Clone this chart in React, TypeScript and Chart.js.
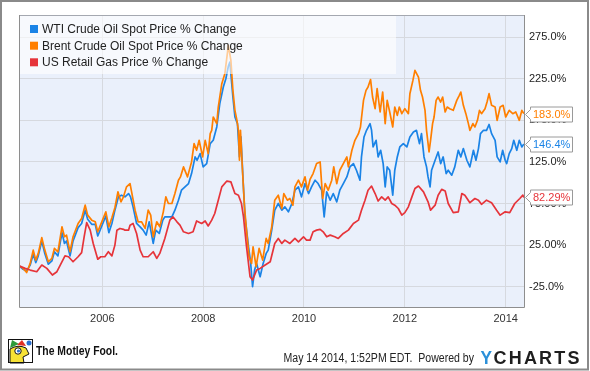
import React, { useEffect, useRef } from "react";
import { Chart, registerables } from "chart.js";

Chart.register(...registerables);

const FONT = "'Liberation Sans', Arial, Helvetica, sans-serif";

const seriesNames = [
  "WTI Crude Oil Spot Price % Change",
  "Brent Crude Oil Spot Price % Change",
  "US Retail Gas Price % Change",
];
const seriesColors = ["#1a83e6", "#ff7f00", "#e6343a"];

const wtiDates = [
  2004.35, 2004.43, 2004.5, 2004.57, 2004.63, 2004.68, 2004.73, 2004.8, 2004.86, 2004.93,
  2005.0, 2005.05, 2005.12, 2005.2, 2005.25, 2005.29, 2005.36, 2005.42, 2005.52, 2005.59,
  2005.66, 2005.71, 2005.79, 2005.86, 2005.91, 2005.99, 2006.07, 2006.13, 2006.19, 2006.25,
  2006.32, 2006.38, 2006.45, 2006.52, 2006.56, 2006.61, 2006.68, 2006.75, 2006.81, 2006.87,
  2006.93, 2007.01, 2007.06, 2007.13, 2007.2, 2007.24, 2007.31, 2007.38, 2007.44, 2007.51,
  2007.57, 2007.64, 2007.71, 2007.77, 2007.84, 2007.88, 2007.94, 2008.0, 2008.07, 2008.14,
  2008.2, 2008.27, 2008.33, 2008.4, 2008.45, 2008.5, 2008.53, 2008.59, 2008.63, 2008.68,
  2008.72, 2008.75, 2008.79, 2008.83, 2008.9, 2008.94, 2008.98, 2009.02, 2009.06, 2009.13,
  2009.19, 2009.25, 2009.29, 2009.36, 2009.42, 2009.49, 2009.56, 2009.62, 2009.69, 2009.76,
  2009.82, 2009.89, 2009.95, 2010.02, 2010.09, 2010.15, 2010.22, 2010.28, 2010.35, 2010.4,
  2010.45, 2010.52, 2010.58, 2010.65, 2010.71, 2010.78, 2010.85, 2010.91, 2010.98, 2011.04,
  2011.11, 2011.14, 2011.19, 2011.24, 2011.31, 2011.34, 2011.37, 2011.43, 2011.47, 2011.52,
  2011.57, 2011.61, 2011.65, 2011.7, 2011.76, 2011.8, 2011.85, 2011.9, 2011.97, 2012.04,
  2012.1, 2012.17, 2012.23, 2012.29, 2012.33, 2012.38, 2012.43, 2012.46, 2012.5, 2012.53,
  2012.6, 2012.66, 2012.71, 2012.76, 2012.82, 2012.86, 2012.93, 2012.99, 2013.06, 2013.11,
  2013.16, 2013.23, 2013.29, 2013.36, 2013.41, 2013.46, 2013.5, 2013.56, 2013.62, 2013.67,
  2013.72, 2013.79, 2013.83, 2013.89, 2013.94, 2013.99, 2014.02, 2014.07, 2014.12, 2014.16,
  2014.22, 2014.27, 2014.32, 2014.36,
];
const wtiValues = [
  0, -4, -6, 1, 14, 4, 12, 30, 15, 2,
  6, 17, 12, 40, 27, 30, 12, 30, 46, 51,
  67, 56, 50, 50, 36, 48, 60, 40, 51, 67,
  83, 85, 83, 87, 83, 71, 51, 47, 43, 37,
  53, 27, 43, 39, 55, 59, 59, 59, 67, 79,
  91, 95, 99, 111, 131, 127, 135, 119, 123, 147,
  151, 167, 195, 215, 225, 240, 245, 203, 179, 171,
  131, 155, 105, 59, 23, 5, -25, -5, 3, -13,
  3, 15, 19, 43, 67, 75, 67, 71, 65, 75,
  91, 95, 83, 99, 87, 95, 103, 99, 91, 59,
  89, 79, 87, 77, 91, 99, 107, 119, 123, 115,
  103, 131, 155, 163, 171, 163, 143, 151, 131, 139,
  123, 95, 119, 115, 85, 115, 131, 143, 147, 143,
  155, 161, 163, 147, 159, 131, 119, 107, 95, 115,
  127, 137, 123, 131, 111, 115, 109, 119, 139, 131,
  141, 127, 119, 139, 127, 141, 159, 163, 163, 170,
  159, 151, 131, 125, 139, 127, 123, 135, 141, 151,
  139, 151, 143, 146.4,
];

const brentDates = [
  2004.35, 2004.43, 2004.5, 2004.57, 2004.63, 2004.68, 2004.73, 2004.8, 2004.86, 2004.93,
  2005.0, 2005.05, 2005.12, 2005.2, 2005.25, 2005.29, 2005.36, 2005.42, 2005.52, 2005.59,
  2005.66, 2005.71, 2005.79, 2005.86, 2005.91, 2005.99, 2006.07, 2006.13, 2006.19, 2006.25,
  2006.31, 2006.37, 2006.42, 2006.48, 2006.55, 2006.6, 2006.65, 2006.71, 2006.78, 2006.85,
  2006.91, 2006.96, 2007.01, 2007.08, 2007.14, 2007.21, 2007.26, 2007.31, 2007.38, 2007.44,
  2007.51, 2007.55, 2007.61, 2007.69, 2007.77, 2007.82, 2007.87, 2007.92, 2007.99, 2008.04,
  2008.1, 2008.14, 2008.17, 2008.2, 2008.27, 2008.3, 2008.37, 2008.43, 2008.5, 2008.55,
  2008.59, 2008.63, 2008.67, 2008.7, 2008.72, 2008.74, 2008.78, 2008.82, 2008.86, 2008.91,
  2008.96, 2008.99, 2009.05, 2009.11, 2009.18, 2009.25, 2009.29, 2009.36, 2009.42, 2009.49,
  2009.56, 2009.6, 2009.67, 2009.72, 2009.78, 2009.82, 2009.89, 2009.95, 2010.02, 2010.07,
  2010.12, 2010.18, 2010.25, 2010.32, 2010.37, 2010.42, 2010.48, 2010.55, 2010.59, 2010.65,
  2010.71, 2010.78, 2010.85, 2010.88, 2010.95, 2011.01, 2011.08, 2011.12, 2011.18, 2011.23,
  2011.27, 2011.32, 2011.36, 2011.41, 2011.45, 2011.51, 2011.56, 2011.61, 2011.65, 2011.7,
  2011.76, 2011.8, 2011.85, 2011.89, 2011.94, 2012.0, 2012.07, 2012.1, 2012.16, 2012.2,
  2012.27, 2012.31, 2012.35, 2012.4, 2012.43, 2012.48, 2012.51, 2012.55, 2012.58, 2012.62,
  2012.66, 2012.71, 2012.75, 2012.8, 2012.84, 2012.89, 2012.96, 2013.03, 2013.08, 2013.11,
  2013.16, 2013.21, 2013.26, 2013.29, 2013.35, 2013.39, 2013.44, 2013.48, 2013.52, 2013.59,
  2013.63, 2013.67, 2013.72, 2013.79, 2013.83, 2013.89, 2013.95, 2014.0, 2014.07, 2014.14,
  2014.2, 2014.27, 2014.32, 2014.36,
];
const brentValues = [
  0, -3, -8, 3, 19, 7, 15, 34, 19, 5,
  9, 21, 17, 47, 35, 37, 17, 35, 51, 57,
  73, 61, 55, 53, 41, 53, 65, 47, 58, 70,
  89, 77, 83, 95, 99, 83, 67, 53, 53, 45,
  67, 61, 35, 53, 47, 65, 83, 75, 75, 87,
  103, 107, 119, 107, 125, 147, 139, 151, 131, 151,
  135, 159, 163, 179, 171, 191, 219, 231, 265, 247,
  211, 187, 175, 163, 127, 163, 115, 71, 43, 11,
  3, 23, -1, 21, 7, 33, 27, 47, 79, 85,
  69, 87, 79, 81, 73, 95, 103, 95, 107, 91,
  104, 111, 123, 125, 81, 99, 91, 103, 119, 99,
  115, 123, 131, 119, 139, 151, 159, 167, 199, 211,
  215, 224, 203, 189, 213, 185, 209, 171, 199, 185,
  167, 191, 181, 191, 183, 189, 183, 207, 223, 235,
  227, 211, 203, 187, 163, 137, 151, 171, 179, 199,
  203, 197, 203, 185, 191, 189, 187, 199, 205, 209,
  193, 183, 171, 163, 171, 167, 175, 187, 183, 189,
  197, 207, 193, 191, 175, 191, 193, 179, 187, 183,
  185, 175, 187, 183.0,
];

const gasDates = [
  2004.35, 2004.47, 2004.57, 2004.7, 2004.8, 2004.9, 2005.01, 2005.1, 2005.26, 2005.33,
  2005.42, 2005.52, 2005.59, 2005.64, 2005.69, 2005.76, 2005.82, 2005.91, 2005.97, 2006.05,
  2006.12, 2006.19, 2006.25, 2006.29, 2006.35, 2006.42, 2006.45, 2006.52, 2006.55, 2006.61,
  2006.68, 2006.75, 2006.81, 2006.91, 2007.01, 2007.08, 2007.14, 2007.24, 2007.34, 2007.4,
  2007.48, 2007.54, 2007.61, 2007.71, 2007.8, 2007.87, 2007.97, 2008.04, 2008.1, 2008.17,
  2008.23, 2008.3, 2008.37, 2008.47, 2008.55, 2008.63, 2008.7, 2008.76, 2008.8, 2008.86,
  2008.93, 2008.98, 2009.06, 2009.13, 2009.23, 2009.33, 2009.42, 2009.49, 2009.56, 2009.62,
  2009.72, 2009.82, 2009.89, 2009.99, 2010.05, 2010.12, 2010.18, 2010.25, 2010.32, 2010.38,
  2010.45, 2010.52, 2010.61, 2010.68, 2010.78, 2010.88, 2010.98, 2011.08, 2011.14, 2011.21,
  2011.27, 2011.34, 2011.41, 2011.47, 2011.54, 2011.61, 2011.67, 2011.74, 2011.8, 2011.87,
  2011.94, 2012.0, 2012.07, 2012.14, 2012.2, 2012.27, 2012.37, 2012.46, 2012.51, 2012.6,
  2012.66, 2012.73, 2012.8, 2012.86, 2012.96, 2013.06, 2013.13, 2013.19, 2013.29, 2013.39,
  2013.46, 2013.52, 2013.62, 2013.72, 2013.82, 2013.89, 2013.99, 2014.08, 2014.18, 2014.28,
  2014.34, 2014.36,
];
const gasValues = [
  0, -3, -5, -7, 1, -3, -11, -7, 12, 11,
  5, 11, 16, 35, 52, 43, 27, 8, 11, 11,
  17, 12, 25, 43, 45, 44, 43, 43, 49, 51,
  39, 19, 11, 11, 17, 9, 15, 33, 55, 59,
  53, 49, 41, 39, 41, 54, 51, 54, 48, 55,
  63, 79, 95, 102, 101, 87, 85, 75, 59, 23,
  -13, -17, -5, -3, 1, 5, 27, 33, 27, 31,
  27, 33, 29, 35, 31, 31, 41, 43, 44, 41,
  35, 37, 35, 33, 39, 43, 51, 55, 67, 79,
  91, 96, 87, 78, 83, 79, 83, 75, 73, 69,
  61, 64, 71, 83, 93, 96, 89, 77, 67, 73,
  85, 92, 90, 75, 64, 65, 87, 85, 76, 81,
  79, 74, 79, 76, 67, 61, 65, 64, 75, 81,
  85, 82.29,
];

const xMin = 2004.348;
const xMax = 2014.363;
const yMin = -49.4;
const yMax = 301.6;
const xTickValues = [2006, 2008, 2010, 2012, 2014];
const xTickLabels = ["2006", "2008", "2010", "2012", "2014"];
const yTickValues = [-25, 25, 75, 125, 175, 225, 275];
const yTickLabels = ["-25.0%", "25.00%", "75.00%", "125.0%", "175.0%", "225.0%", "275.0%"];
const endLabels = ["146.4%", "183.0%", "82.29%"];
const footerText = "May 14 2014, 1:52PM EDT.  Powered by";
const brandText = "The Motley Fool.";

function fitText(ctx: CanvasRenderingContext2D, text: string, x: number, y: number, w: number) {
  const m = ctx.measureText(text).width;
  ctx.save();
  ctx.translate(x, y);
  ctx.scale(w / m, 1);
  ctx.fillText(text, 0, 0);
  ctx.restore();
}

const bgPlugin = {
  id: "bgPlugin",
  beforeDraw(chart: any) {
    const { ctx, chartArea: a } = chart;
    ctx.save();
    ctx.fillStyle = "#ffffff";
    ctx.fillRect(0, 0, chart.width, chart.height);
    ctx.fillStyle = "#eaf0fb";
    ctx.fillRect(a.left, a.top, a.right - a.left, a.bottom - a.top);
    ctx.restore();
  },
};

const legendPlugin = {
  id: "legendPlugin",
  afterDatasetsDraw(chart: any) {
    const { ctx, chartArea: a } = chart;
    ctx.save();
    ctx.fillStyle = "rgba(255,255,255,0.6)";
    ctx.fillRect(a.left, a.top, 377, 59);
    const rows = [14, 30.7, 47.3];
    ctx.font = `12px ${FONT}`;
    ctx.textBaseline = "middle";
    ctx.textAlign = "left";
    for (let i = 0; i < 3; i++) {
      const y = a.top + rows[i];
      ctx.fillStyle = seriesColors[i];
      ctx.fillRect(a.left + 11, y - 4, 8, 8);
      ctx.fillStyle = "#222222";
      ctx.fillText(seriesNames[i], a.left + 23, y + 0.5);
    }
    ctx.restore();
  },
};

function drawLogo(ctx: CanvasRenderingContext2D, x: number, y: number) {
  ctx.save();
  ctx.fillStyle = "#ffffff";
  ctx.fillRect(x, y, 25, 24);
  ctx.fillStyle = "#2e9b3a";
  ctx.beginPath();
  ctx.moveTo(x + 2, y + 9);
  ctx.lineTo(x + 4, y + 1);
  ctx.lineTo(x + 11, y + 5);
  ctx.closePath();
  ctx.fill();
  ctx.fillStyle = "#e03024";
  ctx.beginPath();
  ctx.moveTo(x + 9, y + 6);
  ctx.lineTo(x + 14, y + 1);
  ctx.lineTo(x + 18, y + 7);
  ctx.closePath();
  ctx.fill();
  ctx.fillStyle = "#2a6fd0";
  ctx.beginPath();
  ctx.arc(x + 21, y + 4, 2.5, 0, Math.PI * 2);
  ctx.fill();
  ctx.fillStyle = "#f6e135";
  ctx.beginPath();
  ctx.moveTo(x + 2, y + 24);
  ctx.lineTo(x + 2, y + 10);
  ctx.quadraticCurveTo(x + 10, y + 5, x + 18, y + 9);
  ctx.lineTo(x + 21, y + 15);
  ctx.lineTo(x + 15, y + 18);
  ctx.lineTo(x + 16, y + 24);
  ctx.closePath();
  ctx.fill();
  ctx.strokeStyle = "#111";
  ctx.lineWidth = 1;
  ctx.stroke();
  ctx.fillStyle = "#ffffff";
  ctx.beginPath();
  ctx.arc(x + 10, y + 12, 3.2, 0, Math.PI * 2);
  ctx.fill();
  ctx.stroke();
  ctx.fillStyle = "#2a6fd0";
  ctx.beginPath();
  ctx.arc(x + 10.5, y + 12, 1.6, 0, Math.PI * 2);
  ctx.fill();
  ctx.strokeStyle = "#111";
  ctx.strokeRect(x + 0.5, y + 0.5, 24, 23);
  ctx.restore();
}

const decoPlugin = {
  id: "decoPlugin",
  afterDraw(chart: any) {
    const { ctx, chartArea: a } = chart;
    const ys = chart.scales.y;
    ctx.save();
    ctx.lineWidth = 1;
    ctx.strokeStyle = "#a4a8b0";
    ctx.beginPath();
    ctx.moveTo(a.left, a.top + 0.5);
    ctx.lineTo(a.right, a.top + 0.5);
    ctx.stroke();
    ctx.strokeStyle = "#8e8e8e";
    ctx.beginPath();
    ctx.moveTo(a.left + 0.5, a.top);
    ctx.lineTo(a.left + 0.5, a.bottom + 0.5);
    ctx.lineTo(a.right + 0.5, a.bottom + 0.5);
    ctx.lineTo(a.right + 0.5, a.top);
    ctx.stroke();

    const lasts = [
      wtiValues[wtiValues.length - 1],
      brentValues[brentValues.length - 1],
      gasValues[gasValues.length - 1],
    ];
    ctx.font = `11px ${FONT}`;
    ctx.textBaseline = "middle";
    ctx.textAlign = "left";
    for (let i = 0; i < 3; i++) {
      const y = Math.round(ys.getPixelForValue(lasts[i])) + 0.5;
      const tip = a.right + 1.5;
      const bl = a.right + 6.5;
      const br = bl + 42;
      const top = y - 7.5;
      const bot = y + 7.5;
      ctx.beginPath();
      ctx.moveTo(tip, y);
      ctx.lineTo(bl, y - 5);
      ctx.lineTo(bl, top);
      ctx.lineTo(br, top);
      ctx.lineTo(br, bot);
      ctx.lineTo(bl, bot);
      ctx.lineTo(bl, y + 5);
      ctx.closePath();
      ctx.fillStyle = "#ffffff";
      ctx.fill();
      ctx.strokeStyle = "#9a9a9a";
      ctx.stroke();
      ctx.fillStyle = seriesColors[i];
      ctx.fillText(endLabels[i], bl + 2.5, y + 0.5);
    }

    ctx.strokeStyle = "#8a8a8a";
    ctx.lineWidth = 2;
    ctx.strokeRect(1, 1, chart.width - 3, chart.height - 2.5);

    drawLogo(ctx, 8, 339);
    ctx.fillStyle = "#111111";
    ctx.font = `bold 12px ${FONT}`;
    ctx.textBaseline = "middle";
    fitText(ctx, brandText, 36, 352, 82);

    ctx.fillStyle = "#222222";
    ctx.font = `12px ${FONT}`;
    fitText(ctx, footerText, 283.5, 358.5, 190.5);

    ctx.font = `bold 18px ${FONT}`;
    ctx.fillStyle = "#2b90d9";
    ctx.textBaseline = "alphabetic";
    fitText(ctx, "Y", 480.5, 363.5, 11.5);
    const letters = ["C", "H", "A", "R", "T", "S"];
    const widths = letters.map((l) => ctx.measureText(l).width);
    const total = widths.reduce((s, w) => s + w, 0);
    const gap = (579.5 - 493.5 - total) / (letters.length - 1);
    let cx = 493.5;
    ctx.fillStyle = "#1e1e1e";
    for (let i = 0; i < letters.length; i++) {
      ctx.fillText(letters[i], cx, 363.5);
      cx += widths[i] + gap;
    }
    ctx.restore();
  },
};

export default function App() {
  const ref = useRef<HTMLCanvasElement | null>(null);

  useEffect(() => {
    if (!ref.current) return;
    const toPoints = (d: number[], v: number[]) => d.map((x, i) => ({ x, y: v[i] }));
    const chart = new Chart(ref.current, {
      type: "line",
      data: {
        datasets: [
          {
            label: seriesNames[0],
            data: toPoints(wtiDates, wtiValues),
            borderColor: seriesColors[0],
            borderWidth: 1.7,
            pointRadius: 0,
            tension: 0,
            borderJoinStyle: "round",
            order: 3,
          },
          {
            label: seriesNames[1],
            data: toPoints(brentDates, brentValues),
            borderColor: seriesColors[1],
            borderWidth: 1.7,
            pointRadius: 0,
            tension: 0,
            borderJoinStyle: "round",
            order: 2,
          },
          {
            label: seriesNames[2],
            data: toPoints(gasDates, gasValues),
            borderColor: seriesColors[2],
            borderWidth: 1.7,
            pointRadius: 0,
            tension: 0,
            borderJoinStyle: "round",
            order: 1,
          },
        ],
      },
      options: {
        responsive: false,
        animation: false,
        events: [],
        layout: { padding: { left: 19, top: 15, right: 0, bottom: 0 } },
        plugins: { legend: { display: false }, tooltip: { enabled: false } },
        scales: {
          x: {
            type: "linear",
            min: xMin,
            max: xMax,
            afterBuildTicks: (s: any) => {
              s.ticks = xTickValues.map((v) => ({ value: v }));
            },
            afterFit: (s: any) => {
              s.height = 64;
            },
            grid: { color: "#d6d9df", drawTicks: false, lineWidth: 1 },
            border: { display: false },
            ticks: {
              padding: 5,
              color: "#333333",
              font: { family: FONT, size: 11 },
              maxRotation: 0,
              autoSkip: false,
              callback: (_v: any, i: number) => xTickLabels[i],
            },
          },
          y: {
            type: "linear",
            position: "right",
            min: yMin,
            max: yMax,
            afterBuildTicks: (s: any) => {
              s.ticks = yTickValues.map((v) => ({ value: v }));
            },
            afterFit: (s: any) => {
              s.width = 66;
            },
            grid: { color: "#d6d9df", drawTicks: false, lineWidth: 1 },
            border: { display: false },
            ticks: {
              padding: 5,
              color: "#222222",
              font: { family: FONT, size: 11 },
              autoSkip: false,
              callback: (_v: any, i: number) => yTickLabels[i],
            },
          },
        },
      },
      plugins: [bgPlugin, legendPlugin, decoPlugin],
    } as any);
    return () => chart.destroy();
  }, []);

  return (
    <div style={{ position: "absolute", left: 0, top: 0, width: 590, height: 371 }}>
      <canvas ref={ref} width={590} height={371} style={{ display: "block" }} />
    </div>
  );
}
